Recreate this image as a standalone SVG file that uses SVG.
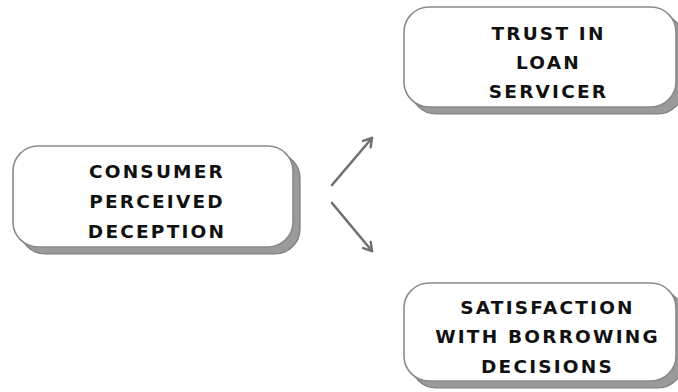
<svg xmlns="http://www.w3.org/2000/svg" width="678" height="392" viewBox="0 0 678 392">
<defs>
<style>
.shadow{fill:#9a9a9a;stroke:#7a7a7a;stroke-width:1.2}
.box{fill:#ffffff;stroke:#8a8a8a;stroke-width:1.6}
.lbl{font-family:"DejaVu Sans","Liberation Sans",Arial,sans-serif;font-weight:bold;font-size:18.5px;letter-spacing:2.2px;fill:#111111;text-anchor:middle}
.conn{stroke:#707070;stroke-width:2.6;fill:none;stroke-linecap:round}
</style>
<marker id="arr" viewBox="0 0 12 12" refX="10" refY="6" markerWidth="12" markerHeight="12" markerUnits="userSpaceOnUse" orient="auto">
<path d="M2,1 L10,6 L2,11" fill="none" stroke="#707070" stroke-width="2.4" stroke-linecap="round" stroke-linejoin="round"/>
</marker>
</defs>
<rect width="678" height="392" fill="#ffffff"/>
<g id="node-deception">
<rect class="shadow" x="20" y="153" width="280" height="101" rx="25"/>
<rect class="box" x="13" y="146" width="280" height="101" rx="25"/>
<text class="lbl" x="157" y="177.5">CONSUMER</text>
<text class="lbl" x="157" y="208">PERCEIVED</text>
<text class="lbl" x="157" y="238">DECEPTION</text>
</g>
<g id="node-trust">
<rect class="shadow" x="411" y="14" width="272" height="100" rx="25"/>
<rect class="box" x="404" y="7" width="272" height="100" rx="25"/>
<text class="lbl" x="548.5" y="40">TRUST IN</text>
<text class="lbl" x="548.5" y="69">LOAN</text>
<text class="lbl" x="548.5" y="98">SERVICER</text>
</g>
<g id="node-satisfaction">
<rect class="shadow" x="411" y="290" width="272" height="98" rx="25"/>
<rect class="box" x="404" y="283" width="272" height="98" rx="25"/>
<text class="lbl" x="547.5" y="314">SATISFACTION</text>
<text class="lbl" x="547.5" y="343">WITH BORROWING</text>
<text class="lbl" x="547.5" y="373">DECISIONS</text>
</g>
<g id="connectors">
<line class="conn" x1="332" y1="185" x2="372" y2="138" marker-end="url(#arr)"/>
<line class="conn" x1="332" y1="203" x2="372" y2="251" marker-end="url(#arr)"/>
</g>
</svg>
